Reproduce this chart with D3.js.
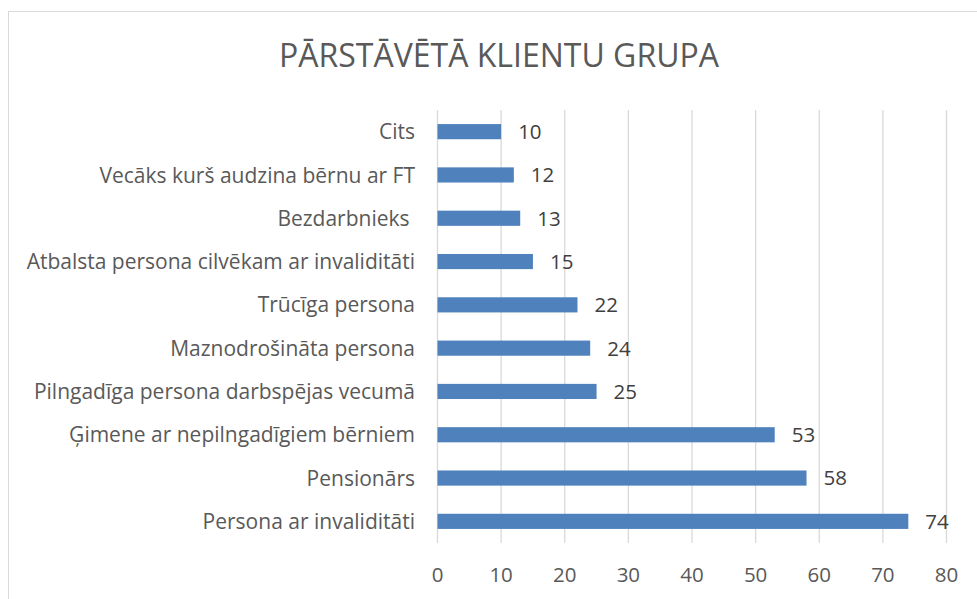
<!DOCTYPE html>
<html><head><meta charset="utf-8">
<script src="https://cdn.jsdelivr.net/npm/d3@7"></script>
<style>body{margin:0;background:#fff;} svg{display:block;}</style>
</head><body>
<svg id="c" width="977" height="599"></svg>
<script>
const title = "PĀRSTĀVĒTĀ KLIENTU GRUPA";
const categories = ["Cits","Vecāks kurš audzina bērnu ar FT","Bezdarbnieks ","Atbalsta persona cilvēkam ar invaliditāti","Trūcīga persona","Maznodrošināta persona","Pilngadīga persona darbspējas vecumā","Ģimene ar nepilngadīgiem bērniem","Pensionārs","Persona ar invaliditāti"];
const values = [10,12,13,15,22,24,25,53,58,74];
const ticks = [0,10,20,30,40,50,60,70,80];

const svg = d3.select("#c");
const font = "'Open Sans', sans-serif";
svg.append("rect").attr("x",8.5).attr("y",11.5).attr("width",1000).attr("height",700)
  .attr("fill","#fff").attr("stroke","#d9d9d9").attr("stroke-width",1);

const x = d3.scaleLinear().domain([0,80]).range([437.5,946.5]);
const y = d3.scaleBand().domain(categories).range([110,543]).paddingInner(0.65).paddingOuter(0.325);

svg.append("text").attr("x",499).attr("y",67).attr("text-anchor","middle")
  .attr("font-family",font).attr("font-size",32).attr("fill","#595959").text(title);

const g = svg.append("g");
g.selectAll("line.grid").data(ticks).join("line").attr("class","grid")
  .attr("x1",d=>x(d)).attr("x2",d=>x(d)).attr("y1",110).attr("y2",543)
  .attr("stroke","#d9d9d9").attr("stroke-width",1.3);

g.selectAll("rect.bar").data(values).join("rect").attr("class","bar")
  .attr("x",x(0)).attr("y",(d,i)=>y(categories[i]))
  .attr("width",d=>x(d)-x(0)).attr("height",y.bandwidth())
  .attr("fill","#4f81bd");

g.selectAll("text.val").data(values).join("text").attr("class","val")
  .attr("x",d=>x(d)+17).attr("y",(d,i)=>y(categories[i])+y.bandwidth()/2)
  .attr("dy","0.36em").attr("font-family",font).attr("font-size",20.5).attr("fill","#404040").text(d=>d);

g.selectAll("text.cat").data(categories).join("text").attr("class","cat")
  .attr("x",415).attr("y",d=>y(d)+y.bandwidth()/2).attr("dy","0.36em")
  .attr("text-anchor","end").attr("font-family",font).attr("font-size",21).attr("fill","#595959")
  .attr("xml:space","preserve").text(d=>d);

g.selectAll("text.tick").data(ticks).join("text").attr("class","tick")
  .attr("x",d=>x(d)).attr("y",582).attr("text-anchor","middle")
  .attr("font-family",font).attr("font-size",20.5).attr("fill","#595959").text(d=>d);
</script>
</body></html>
